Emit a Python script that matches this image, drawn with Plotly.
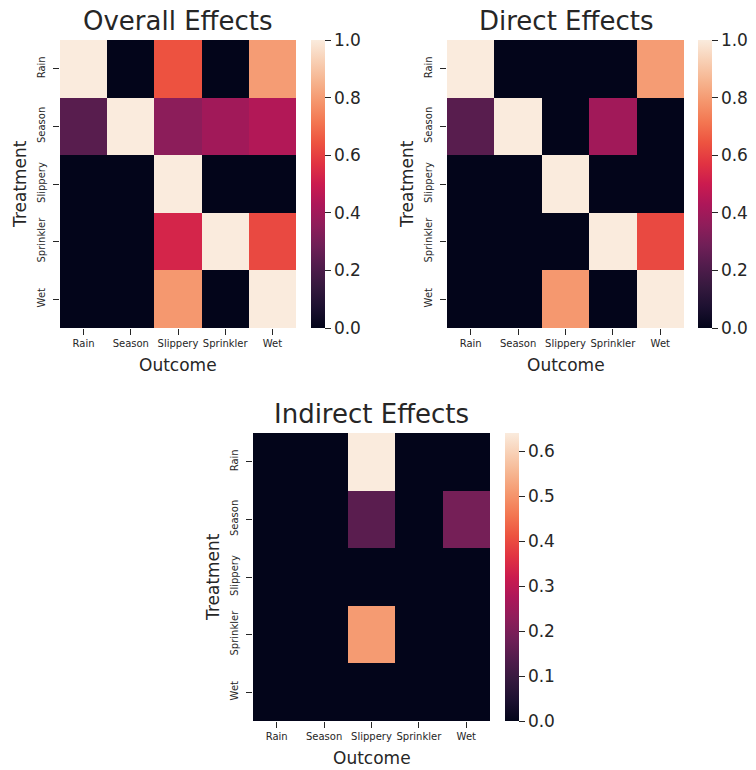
import plotly.graph_objects as go

W, H = 756, 770

categories = ["Rain", "Season", "Slippery", "Sprinkler", "Wet"]

overall = [
    [1.00, 0.00, 0.64, 0.00, 0.80],
    [0.23, 1.00, 0.35, 0.40, 0.44],
    [0.00, 0.00, 1.00, 0.00, 0.00],
    [0.00, 0.00, 0.53, 1.00, 0.62],
    [0.00, 0.00, 0.79, 0.00, 1.00],
]

direct = [
    [1.00, 0.00, 0.00, 0.00, 0.80],
    [0.23, 1.00, 0.00, 0.40, 0.00],
    [0.00, 0.00, 1.00, 0.00, 0.00],
    [0.00, 0.00, 0.00, 1.00, 0.62],
    [0.00, 0.00, 0.79, 0.00, 1.00],
]

indirect = [
    [0.00, 0.00, 0.64, 0.00, 0.00],
    [0.00, 0.00, 0.15, 0.00, 0.19],
    [0.00, 0.00, 0.00, 0.00, 0.00],
    [0.00, 0.00, 0.51, 0.00, 0.00],
    [0.00, 0.00, 0.00, 0.00, 0.00],
]

titles = ["Overall Effects", "Direct Effects", "Indirect Effects"]

rocket = [
    [0.000, "#03051a"],
    [0.071, "#1c1030"],
    [0.143, "#35193e"],
    [0.214, "#511c4c"],
    [0.286, "#701f57"],
    [0.357, "#8f1d5a"],
    [0.429, "#ad1759"],
    [0.500, "#cb1b4f"],
    [0.571, "#e13342"],
    [0.643, "#ed5340"],
    [0.714, "#f37651"],
    [0.786, "#f5966d"],
    [0.857, "#f6b48f"],
    [0.929, "#f8d0b5"],
    [1.000, "#faebdd"],
]

TXT = "#262626"
FONT = "DejaVu Sans"

# panel boxes in pixels: (left, right, top, bottom), colorbar left
panels = [
    dict(x0=60, x1=296, y0=40, y1=328, cb=311),
    dict(x0=447, x1=684, y0=40, y1=328, cb=698),
    dict(x0=253, x1=490, y0=433, y1=721, cb=505),
]
datasets = [overall, direct, indirect]
zmaxes = [1.0, 1.0, 0.64]
cbticks = [[0, 0.2, 0.4, 0.6, 0.8, 1.0], [0, 0.2, 0.4, 0.6, 0.8, 1.0],
           [0, 0.1, 0.2, 0.3, 0.4, 0.5, 0.6]]

fig = go.Figure()
annotations = []
for i, (p, z, zm, tv, title) in enumerate(zip(panels, datasets, zmaxes, cbticks, titles)):
    sfx = "" if i == 0 else str(i + 1)
    fig.add_trace(go.Heatmap(
        z=z, x=categories, y=categories,
        zmin=0, zmax=zm, colorscale=rocket,
        xaxis="x" + sfx, yaxis="y" + sfx,
        colorbar=dict(
            x=p["cb"] / W, xref="paper", xanchor="left", xpad=0, ypad=0,
            y=1 - (p["y0"] + p["y1"]) / 2 / H, yref="paper", yanchor="middle",
            len=(p["y1"] - p["y0"]) / H, lenmode="fraction",
            thickness=14, thicknessmode="pixels",
            outlinewidth=0, ticks="outside", ticklen=6, tickwidth=1.3,
            tickcolor=TXT, tickvals=tv, tickformat=".1f",
            tickfont=dict(size=17, color=TXT, family=FONT),
        ),
    ))
    fig.layout["xaxis" + sfx] = dict(
        domain=[p["x0"] / W, p["x1"] / W], anchor="y" + sfx,
        ticks="outside", ticklen=6, tickwidth=1.3, tickcolor=TXT,
        tickfont=dict(size=10, color=TXT, family=FONT), tickangle=0,
        showgrid=False, zeroline=False, showline=False,
    )
    fig.layout["yaxis" + sfx] = dict(
        domain=[1 - p["y1"] / H, 1 - p["y0"] / H], anchor="x" + sfx,
        autorange="reversed",
        ticks="outside", ticklen=6, tickwidth=1.3, tickcolor=TXT,
        tickfont=dict(size=10, color=TXT, family=FONT), tickangle=-90,
        ticklabelstandoff=4,
        showgrid=False, zeroline=False, showline=False,
    )
    cx = (p["x0"] + p["x1"]) / 2
    cy = (p["y0"] + p["y1"]) / 2
    annotations.append(dict(text=title, x=cx / W, y=1 - (p["y0"] - 19) / H,
                            xref="paper", yref="paper", xanchor="center", yanchor="middle",
                            showarrow=False, font=dict(size=26, color=TXT, family=FONT)))
    annotations.append(dict(text="Outcome", x=cx / W, y=1 - (p["y1"] + 37) / H,
                            xref="paper", yref="paper", xanchor="center", yanchor="middle",
                            showarrow=False, font=dict(size=17, color=TXT, family=FONT)))
    annotations.append(dict(text="Treatment", x=(p["x0"] - 40) / W, y=1 - cy / H,
                            xref="paper", yref="paper", xanchor="center", yanchor="middle",
                            textangle=-90,
                            showarrow=False, font=dict(size=17, color=TXT, family=FONT)))

fig.update_layout(
    width=W, height=H,
    margin=dict(l=0, r=0, t=0, b=0, autoexpand=False),
    paper_bgcolor="white", plot_bgcolor="white",
    annotations=annotations,
    font=dict(family=FONT, color=TXT),
    showlegend=False,
)

fig.write_html(
    "out.html",
    config={"displayModeBar": False},
    post_script="document.body.style.margin='0';document.body.style.padding='0';",
)
